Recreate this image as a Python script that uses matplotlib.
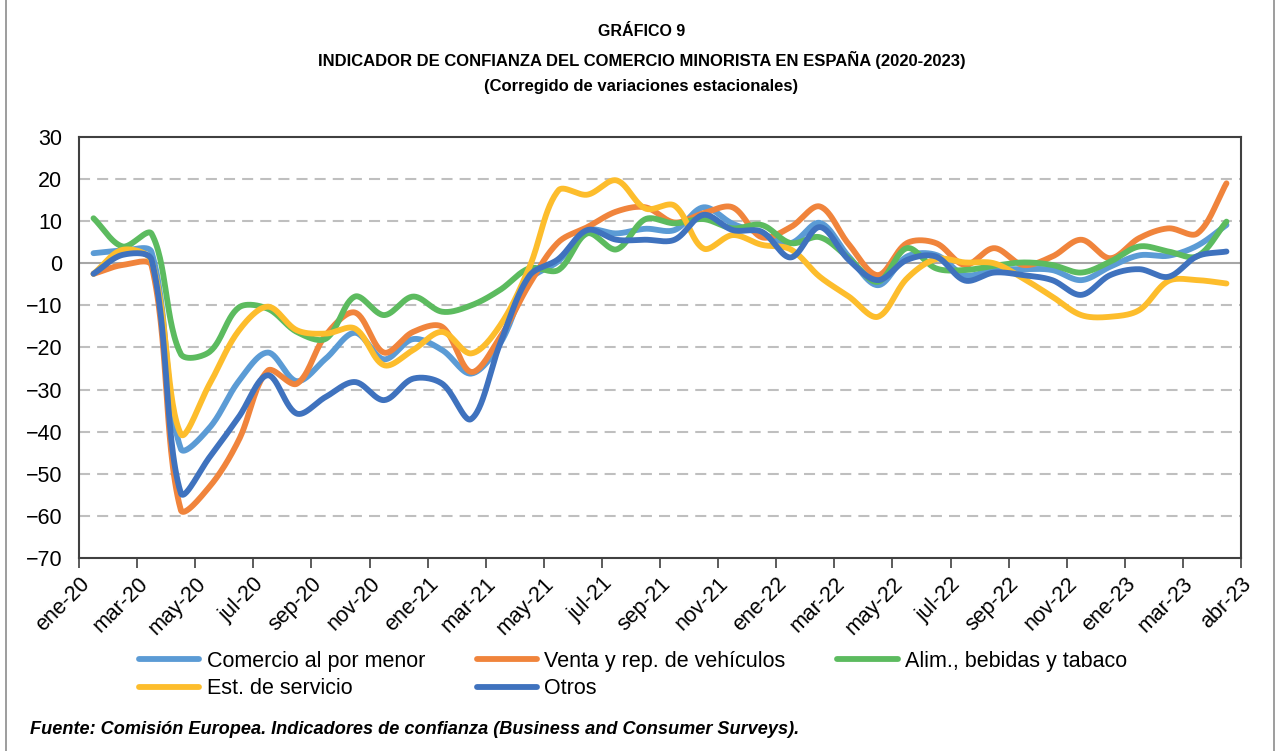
import numpy as np
import matplotlib
matplotlib.use("Agg")
import matplotlib.pyplot as plt
from matplotlib.patches import Rectangle

plt.rcParams['font.family'] = ['Liberation Sans', 'DejaVu Sans']

# === datos (ene-20 .. abr-23, mensual) ===
meses = ['ene', 'feb', 'mar', 'abr', 'may', 'jun', 'jul', 'ago', 'sep', 'oct', 'nov', 'dic']
fechas = [f"{m}-{a}" for a in ('20', '21', '22', '23') for m in meses][:40]

comercio = [2.4, 3.0, 2.6, -44.0, -39.0, -28.0, -21.2, -28.0, -22.6, -16.5,
            -22.8, -18.0, -20.6, -26.2, -19.0, -4.0, 0.5, 7.8, 7.1, 8.2,
            7.9, 13.3, 9.4, 7.1, 4.8, 9.6, 1.6, -5.2, 1.6, 2.0,
            -2.8, -1.6, -1.4, -1.6, -4.0, -0.8, 1.9, 1.8, 4.2, 9.1]
vehiculos = [-2.5, -0.4, -0.6, -58.5, -53.0, -42.0, -25.5, -28.6, -17.0, -11.7,
             -21.2, -16.3, -15.1, -25.8, -17.5, -5.0, 5.0, 8.6, 12.3, 13.3,
             9.7, 11.9, 13.3, 6.2, 8.6, 13.5, 4.5, -2.8, 4.8, 4.8,
             -0.4, 3.6, -0.4, 1.6, 5.6, 1.2, 6.0, 8.3, 7.1, 19.0]
alimentacion = [10.7, 4.0, 7.0, -21.5, -21.0, -10.5, -10.8, -16.3, -17.9, -7.9,
                -12.3, -7.9, -11.5, -10.0, -6.3, -1.2, -1.6, 7.1, 3.3, 10.5,
                9.5, 10.5, 8.3, 9.1, 4.8, 6.2, 1.2, -4.4, 3.6, -1.2,
                -1.6, -0.6, 0.2, -0.4, -2.2, 0.4, 4.0, 2.8, 1.7, 9.9]
servicio = [-2.5, 3.2, 0.5, -40.5, -28.6, -16.0, -10.3, -15.9, -16.7, -15.5,
            -24.2, -20.6, -16.3, -21.4, -14.7, -1.0, 17.3, 16.3, 19.7, 13.0,
            13.7, 3.5, 6.7, 4.4, 3.3, -3.2, -7.9, -12.7, -3.6, 1.0,
            0.2, 0.0, -3.6, -7.9, -12.3, -12.7, -11.1, -4.2, -4.0, -4.8]
otros = [-2.5, 2.0, 0.8, -54.5, -46.0, -36.5, -26.6, -35.7, -31.7, -28.2,
         -32.5, -27.4, -28.6, -37.0, -19.0, -3.0, 1.0, 7.9, 5.6, 5.6,
         5.6, 11.5, 7.9, 7.5, 1.4, 8.6, 0.8, -4.0, 0.8, 1.6,
         -4.1, -2.2, -2.8, -4.0, -7.5, -2.8, -1.4, -3.2, 1.7, 2.8]

series = [
    ("Comercio al por menor", comercio, '#5B9BD5'),
    ("Venta y rep. de vehículos", vehiculos, '#F0843C'),
    ("Alim., bebidas y tabaco", alimentacion, '#5CBB5F'),
    ("Est. de servicio", servicio, '#FDBD2C'),
    ("Otros", otros, '#3F72BE'),
]

fig = plt.figure(figsize=(12.79, 7.51), dpi=100)
ax = fig.add_axes([79 / 1279, 1 - 558 / 751, (1241 - 79) / 1279, (558 - 137) / 751])
ax.set_xlim(-0.5, 39.5)
ax.set_ylim(-70, 30)

# escala en pixeles para el suavizado (tipo línea suavizada de Excel)
bb = ax.get_position()
sx = bb.width * fig.bbox.width / 40.0
sy = bb.height * fig.bbox.height / 100.0


def suavizar(y, n=30):
    P = np.column_stack([np.arange(len(y)) * sx, np.asarray(y, float) * sy])
    Q = np.vstack([P[0], P, P[-1]])
    t = np.linspace(0, 1, n, endpoint=False)[:, None]
    out = []
    for i in range(len(P) - 1):
        p0, p1, p2, p3 = Q[i], Q[i + 1], Q[i + 2], Q[i + 3]
        d01 = np.linalg.norm(p1 - p0)
        d12 = np.linalg.norm(p2 - p1)
        d23 = np.linalg.norm(p3 - p2)
        f1 = d12 / (d01 + d12) if d01 + d12 > 0 else 0
        f2 = d12 / (d12 + d23) if d12 + d23 > 0 else 0
        c1 = p1 + (p2 - p0) * f1 / 3
        c2 = p2 - (p3 - p1) * f2 / 3
        b = (1 - t)**3 * p1 + 3 * (1 - t)**2 * t * c1 + 3 * (1 - t) * t**2 * c2 + t**3 * p2
        out.append(b)
    out.append(P[-1][None, :])
    pts = np.vstack(out)
    return pts[:, 0] / sx, pts[:, 1] / sy


# marco exterior
fig.patches.append(Rectangle((6 / 1279, -0.01), 1268 / 1279, 1.02, transform=fig.transFigure,
                             fill=False, edgecolor='#8c8c8c', lw=1.2))

handles = {}
for nombre, vals, color in series:
    xs, ys = suavizar(vals)
    h, = ax.plot(xs, ys, color=color, lw=4.2, solid_capstyle='round', label=nombre, zorder=3)
    handles[nombre] = h

ax.set_yticks(np.arange(-70, 31, 10))
for v in range(-60, 30, 10):
    if v == 0:
        ax.axhline(0, color='#a6a6a6', lw=1.5, zorder=1)
    else:
        ax.axhline(v, color='#bfbfbf', lw=1.5, ls=(0, (5.3, 3.4)), zorder=1)

tick_pos = [i - 0.5 for i in range(0, 40, 2)] + [39.5]
tick_lab = fechas[0::2] + [fechas[39]]
ax.set_xticks(tick_pos)
ax.set_xticklabels(tick_lab, rotation=45, ha='right', rotation_mode='anchor')
ax.tick_params(axis='x', direction='out', length=7, width=1.2, color='#404040',
               labelsize=15.5, pad=4)
ax.tick_params(axis='y', length=0, labelsize=15.5, pad=12)
for s in ax.spines.values():
    s.set_color('#404040')
    s.set_linewidth(1.5)

# títulos
fig.text(0.5015, 1 - 32 / 751, "GRÁFICO 9", ha='center', va='center', fontsize=11.5, fontweight='bold')
fig.text(0.5015, 1 - 60 / 751, "INDICADOR DE CONFIANZA DEL COMERCIO MINORISTA EN ESPAÑA (2020-2023)",
         ha='center', va='center', fontsize=12, fontweight='bold')
fig.text(0.5015, 1 - 87 / 751, "(Corregido de variaciones estacionales)", ha='center', va='center',
         fontsize=12, fontweight='bold')

orden = ["Comercio al por menor", "Est. de servicio", "Venta y rep. de vehículos", "Otros",
         "Alim., bebidas y tabaco"]
fig.legend([handles[k] for k in orden], orden, ncol=3, frameon=False, loc='upper left',
           bbox_to_anchor=(128 / 1279, 1 - 640 / 751), fontsize=15.5, handlelength=2.8,
           handletextpad=0.35, columnspacing=2.4, labelspacing=0.3, borderpad=0)

fig.text(30 / 1279, 1 - 729 / 751,
         "Fuente: Comisión Europea. Indicadores de confianza (Business and Consumer Surveys).",
         ha='left', va='center', fontsize=13.1, fontweight='bold', style='italic')

fig.savefig("out.png", dpi=100)
